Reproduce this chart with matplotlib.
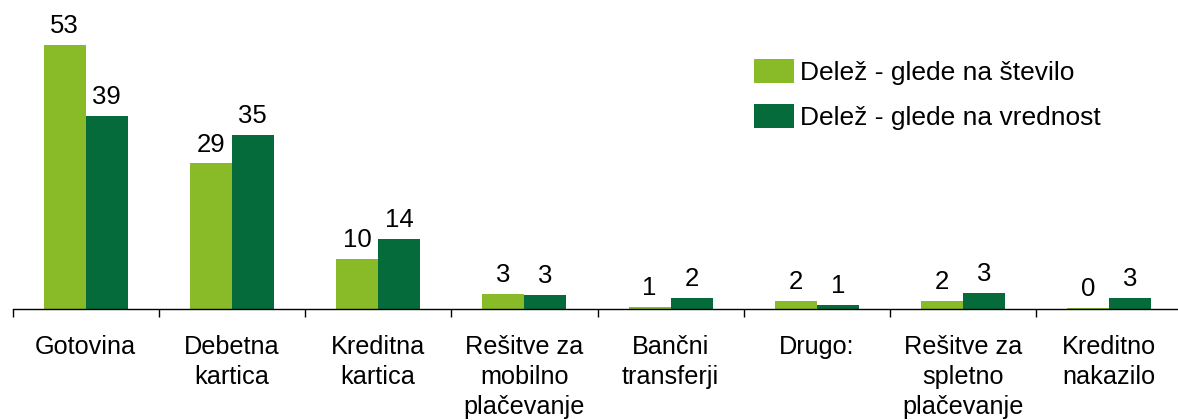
import numpy as np
import matplotlib.pyplot as plt
from matplotlib.ticker import FixedLocator, NullLocator

plt.rcParams['font.family'] = ['Liberation Sans', 'DejaVu Sans']

kategorije = ["Gotovina", "Debetna\nkartica", "Kreditna\nkartica",
              "Rešitve za\nmobilno\nplačevanje", "Bančni\ntransferji",
              "Drugo:", "Rešitve za\nspletno\nplačevanje", "Kreditno\nnakazilo"]
stevilo = [53.0, 29.2, 10.0, 3.1, 0.5, 1.7, 1.6, 0.3]
vrednost = [38.8, 34.9, 14.1, 2.9, 2.2, 0.9, 3.3, 2.3]
stevilo_txt = ["53", "29", "10", "3", "1", "2", "2", "0"]
vrednost_txt = ["39", "35", "14", "3", "2", "1", "3", "3"]

svetla = "#89bb29"
temna = "#066b3a"

fig = plt.figure(figsize=(11.78, 4.2), dpi=100)
ax = fig.add_axes([12.5 / 1178, 1 - 309 / 420, 1170 / 1178, 309 / 420])

x = np.arange(len(kategorije))
w = 0.287
b1 = ax.bar(x - w / 2, stevilo, w, color=svetla, label="Delež - glede na število")
b2 = ax.bar(x + w / 2, vrednost, w, color=temna, label="Delež - glede na vrednost")

for bars, txt in ((b1, stevilo_txt), (b2, vrednost_txt)):
    for r, t in zip(bars, txt):
        ax.annotate(t, (r.get_x() + r.get_width() / 2, r.get_height()),
                    xytext=(0, 5), textcoords="offset points",
                    ha="center", va="bottom", fontsize=18.5)

ax.set_xlim(-0.5, len(kategorije) - 0.5)
ax.set_ylim(0, 62)
for s in ("top", "right", "left"):
    ax.spines[s].set_visible(False)
ax.spines["bottom"].set_linewidth(1.0)
ax.yaxis.set_major_locator(NullLocator())

ax.set_xticks(x)
ax.set_xticklabels(kategorije, fontsize=18.2, linespacing=1.3)
ax.tick_params(axis="x", which="major", length=0, pad=19)
ax.xaxis.set_minor_locator(FixedLocator(np.arange(-0.5, len(kategorije), 1.0)))
ax.tick_params(axis="x", which="minor", length=6, width=1.0, direction="out")

fig.legend(loc="upper left", bbox_to_anchor=(754 / 1178, 1 - 59 / 420),
           frameon=False, fontsize=19, handlelength=1.52, handleheight=1.02,
           handletextpad=0.23, labelspacing=0.72, borderpad=0, borderaxespad=0)

fig.savefig("out.png", dpi=100)
